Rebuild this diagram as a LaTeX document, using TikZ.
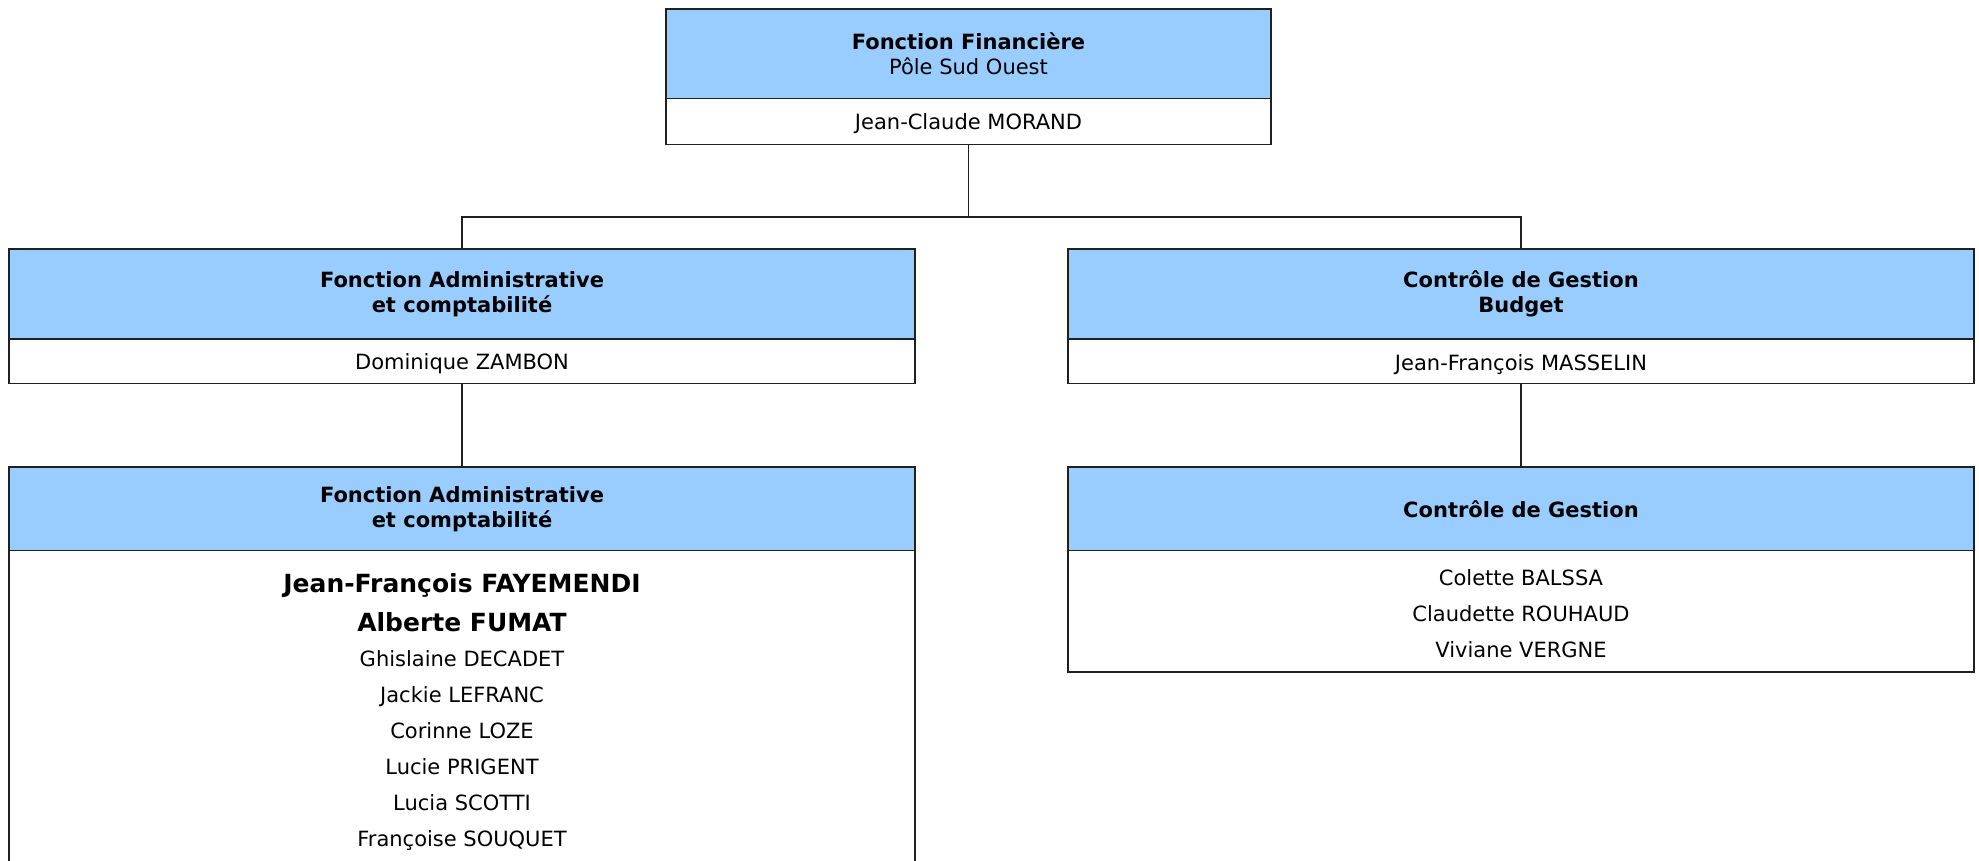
\documentclass[tikz,border=0pt]{standalone}
\usepackage{fontspec}
\setmainfont{DejaVu Sans}
\usetikzlibrary{positioning}
\definecolor{hdrblue}{HTML}{99CCFF}
\definecolor{frame}{HTML}{202020}
\tikzset{
  hdr/.style    = {draw=frame,fill=hdrblue,line width=1.3pt,align=center,
                   outer sep=0pt,inner sep=0pt,
                   font=\fontsize{21}{25}\selectfont},
  body/.style   = {draw=frame,fill=white,line width=1.3pt,align=center,
                   outer sep=0pt,inner sep=0pt,
                   font=\fontsize{21}{25}\selectfont},
  person/.style = {anchor=base,inner sep=0pt,font=\fontsize{21}{25}\selectfont},
  lead/.style   = {anchor=base,inner sep=0pt,
                   font=\fontsize{25}{30}\selectfont\bfseries},
  link/.style   = {draw=frame,line width=1.3pt},
}
\begin{document}
\begin{tikzpicture}[x=1pt,y=-1pt]
  \useasboundingbox (0,0) rectangle (1979,861);
  % Top
  \node[hdr,minimum width=605pt,minimum height=89.5pt] (finH) at (968.5,53.75)
        {{\bfseries Fonction Financière}\\Pôle Sud Ouest};
  \node[body,below=0pt of finH,minimum width=605pt,minimum height=46pt] (finB) {};
  \node[person] (finN) at (968.5,129.5) {Jean-Claude MORAND};
  % Second level
  \node[hdr,minimum width=906pt,minimum height=90pt] (admH) at (462,294)
        {\bfseries Fonction Administrative\\\bfseries et comptabilité};
  \node[body,below=0pt of admH,minimum width=906pt,minimum height=44.5pt] (admB) {};
  \node[person] (admN) at (462,369.5) {Dominique ZAMBON};
  \node[hdr,minimum width=906pt,minimum height=90pt] (cdgH) at (1521,294)
        {\bfseries Contrôle de Gestion\\\bfseries Budget};
  \node[body,below=0pt of cdgH,minimum width=906pt,minimum height=44.5pt] (cdgB) {};
  \node[person] (cdgN) at (1521,370.5) {Jean-François MASSELIN};
  % Third level
  \node[hdr,minimum width=906pt,minimum height=83.5pt] (teamH) at (462,508.75)
        {\bfseries Fonction Administrative\\\bfseries et comptabilité};
  \node[body,below=0pt of teamH,minimum width=906pt,minimum height=330pt] (teamB) {};
  \node[hdr,minimum width=906pt,minimum height=83.5pt] (ctrlH) at (1521,508.75)
        {\bfseries Contrôle de Gestion};
  \node[body,below=0pt of ctrlH,minimum width=906pt,minimum height=121.5pt] (ctrlB) {};
  % Names
  \node[lead] (lead1) at (462,592) {Jean-François FAYEMENDI};
  \node[lead] (lead2) at (462,631) {Alberte FUMAT};
  \foreach \who [count=\i] in {Ghislaine DECADET,Jackie LEFRANC,Corinne LOZE,
                               Lucie PRIGENT,Lucia SCOTTI,Françoise SOUQUET}
    \node[person] (team\i) at (462,630.5+36*\i) {\who};
  \foreach \who [count=\i] in {Colette BALSSA,Claudette ROUHAUD,Viviane VERGNE}
    \node[person] (ctrl\i) at (1521,549.5+36*\i) {\who};
  % Links
  \coordinate (split) at (968.5,217);
  \draw[link] (finB.south) -- (split);
  \draw[link] (split) -| (admH.north);
  \draw[link] (split) -| (cdgH.north);
  \draw[link] (admB.south) -- (teamH.north);
  \draw[link] (cdgB.south) -- (ctrlH.north);
\end{tikzpicture}
\end{document}
